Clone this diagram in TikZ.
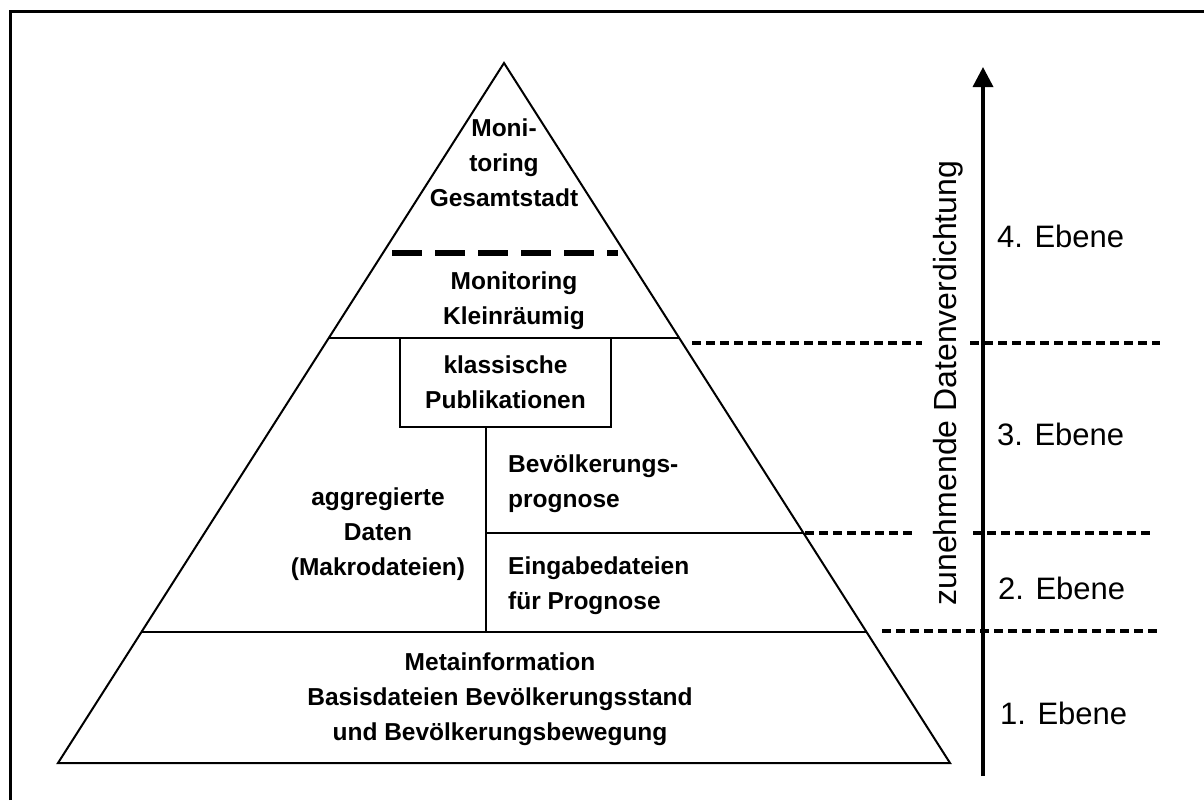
\documentclass[tikz,border=0pt]{standalone}
\usepackage{fontspec}
\setmainfont{Liberation Sans}
\usetikzlibrary{arrows.meta,calc}
\begin{document}
\begin{tikzpicture}[x=1pt,y=-1pt,
  edge/.style={line width=2pt},
  lbl/.style={font=\fontsize{24.5}{35}\selectfont\bfseries, align=center, inner sep=0pt},
  lvl/.style={font=\fontsize{31}{36}\selectfont, anchor=west, inner sep=0pt},
  lvlsep/.style={line width=3.5pt, dash pattern=on 9pt off 5pt},
]
\useasboundingbox (0,0) rectangle (1204,800);
\draw[line width=3pt] (10,800) -- (10,12) -- (1204,12);
% pyramid
\coordinate (apex) at (504,63);
\coordinate (bl) at (58,763);
\coordinate (br) at (950,763);
\draw[edge, line join=miter] (apex) -- (bl) -- (br) -- cycle;
\coordinate (l3) at ($(apex)!0.3929!(bl)$);
\coordinate (r3) at ($(apex)!0.3929!(br)$);
\coordinate (l1) at ($(apex)!0.8129!(bl)$);
\coordinate (r1) at ($(apex)!0.8129!(br)$);
\coordinate (r2) at ($(apex)!0.6714!(br)$);
\draw[edge] (l3) -- (r3);
\draw[edge] (l1) -- (r1);
% thick dashed line
\coordinate (d1) at (392,253);
\coordinate (d2) at (618,253);
\draw[line width=5.5pt, dash pattern=on 30pt off 13pt] (d1) -- (d2);
% box
\node[draw, line width=2pt, minimum width=211pt, minimum height=89pt, lbl] (pub) at (505.5,382.5) {klassische\\Publikationen};
\coordinate (vx) at (486,0);
\draw[edge] (pub.south -| vx) -- (l1 -| vx);
\draw[edge] (r2 -| vx) -- (r2);
% texts
\node[lbl] (top) at (504,163) {Moni-\\toring\\Gesamtstadt};
\node[lbl] (klein) at (514,301) {Monitoring\\Kleinräumig};
\node[lbl, align=left, anchor=west] (prog) at (508,484) {Bevölkerungs-\\prognose};
\node[lbl, align=left, anchor=west] (eing) at (508,586) {Eingabedateien\\für Prognose};
\node[lbl] (aggr) at (378,534) {aggregierte\\Daten\\(Makrodateien)};
\node[lbl] (meta) at (500,699) {Metainformation\\Basisdateien Bevölkerungsstand\\und Bevölkerungsbewegung};
% levels
\node[lvl] (e4) at (997,236) {4. Ebene};
\node[lvl] (e3) at (997,434) {3. Ebene};
\node[lvl] (e2) at (998,588) {2. Ebene};
\node[lvl] (e1) at (1000,713) {1. Ebene};
\node[rotate=90, anchor=base, font=\fontsize{32}{38}\selectfont, inner sep=0pt] (dv) at (956,383) {zunehmende Datenverdichtung};
% arrow
\coordinate (abot) at (983,776);
\coordinate (atop) at (983,67);
\draw[line width=3.5pt, -{Triangle[width=20pt,length=20pt]}] (abot) -- (atop);
% dashed level separators
\coordinate (s3a) at (692,343); \coordinate (s3b) at (922,343);
\coordinate (s3c) at (970,343); \coordinate (s3d) at (1160,343);
\coordinate (s2a) at (805,533); \coordinate (s2b) at (915,533);
\coordinate (s2c) at (973,533); \coordinate (s2d) at (1153,533);
\coordinate (s1a) at (882,631); \coordinate (s1b) at (1160,631);
\draw[lvlsep] (s3a) -- (s3b);
\draw[lvlsep] (s3c) -- (s3d);
\draw[lvlsep] (s2a) -- (s2b);
\draw[lvlsep] (s2c) -- (s2d);
\draw[lvlsep] (s1a) -- (s1b);
\end{tikzpicture}
\end{document}
